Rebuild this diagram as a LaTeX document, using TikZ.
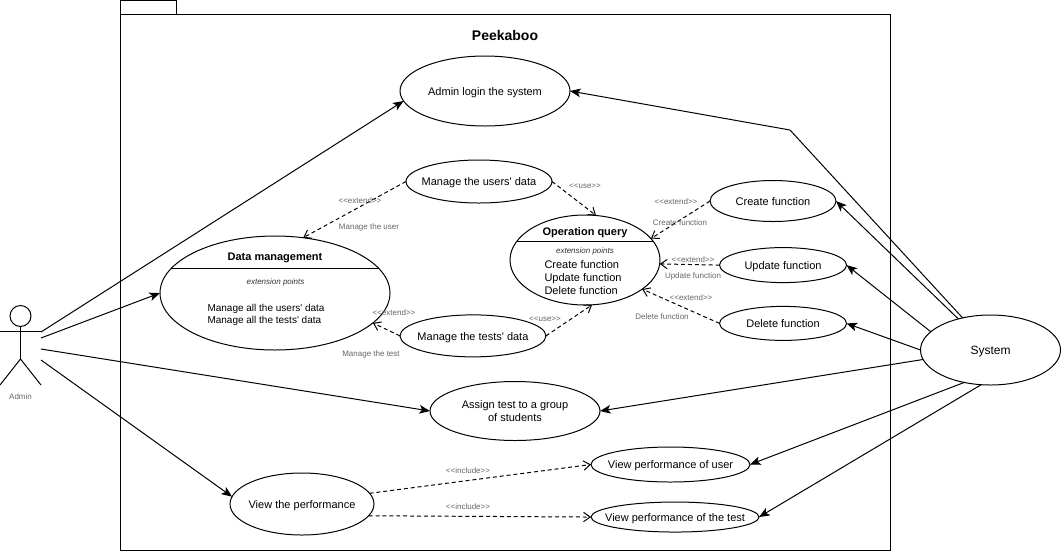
\documentclass[tikz,border=0pt]{standalone}
\usepackage{fontspec}
\setmainfont{Liberation Sans}[Ligatures=TeXOff]
\usepackage{xcolor}
\usepackage{tikz}
\usetikzlibrary{arrows.meta, positioning, shapes.geometric}

\begin{document}
\begin{tikzpicture}[
    x=0.02646cm, y=-0.02646cm,
    line width=0.75pt,
    every node/.style={font=\fontsize{8.28}{10.2}\selectfont},
    usecase/.style 2 args={
        draw=black, ellipse, fill=white, align=center,
        inner ysep=0pt, inner xsep=-1cm, outer sep=0pt,
        text height=8.6pt, text depth=2pt,
        minimum width=#1*0.02646cm, minimum height=#2*0.02646cm
    },
    small/.style={font=\fontsize{6.02}{7.5}\selectfont, text=cNote, inner sep=0pt},
    extpoints/.style={font=\fontsize{6.02}{7.5}\selectfont\itshape, text=black!80, inner sep=0pt},
    title/.style={font=\fontsize{8.28}{10.2}\selectfont\bfseries, inner sep=0pt},
    flow/.style={draw=black, -{Stealth[length=8pt,width=6.5pt,inset=2pt]}},
    dep/.style={draw=black, dashed, dash pattern=on 3pt off 2.2pt,
        -{Straight Barb[length=5pt,width=7pt]}},
    node distance=0.7cm and 1cm
]
\definecolor{cNote}{RGB}{102,102,102}
\useasboundingbox (0,0) rectangle (1061,551);

% Package
\node[draw=black, minimum width=56*0.02646cm, minimum height=14*0.02646cm,
      inner sep=0pt, outer sep=0pt, anchor=north west] (tab) at (120,0.5) {};
\node[draw=black, minimum width=770*0.02646cm, minimum height=536*0.02646cm,
      inner sep=0pt, outer sep=0pt, anchor=north west] (package) at (120.5,14.5) {};
\node[font=\fontsize{10.54}{12}\selectfont\bfseries, inner sep=0pt] (pname) at (505,35) {Peekaboo};

% Actor
\node[draw=black, circle, minimum size=21*0.02646cm, inner sep=0pt, outer sep=0pt] (head) at (20.5,316) {};
\coordinate (neck) at (20.5,359);
\coordinate (armL) at (0,331);
\coordinate (armR) at (41,331);
\coordinate (footL) at (0,385);
\coordinate (footR) at (41,385);
\draw (head) -- (neck);
\draw (armL) -- (armR);
\draw (footL) -- (neck) -- (footR);
\node[small] (admin) at (20.5,397) {Admin};
\coordinate (a1) at (41,332);
\coordinate (a2) at (41,338);
\coordinate (a3) at (41,349);
\coordinate (a4) at (41,360);

% Use cases
\node[usecase={170}{70}] (login) at (485,91) {Admin login the system};
\node[usecase={146}{43}] (users) at (479,181.5) {Manage the users' data};
\node[usecase={146}{42}, below=2.96cm of users, xshift=-0.16cm] (tests) {Manage the tests' data};
\node[usecase={230}{114}] (data) at (275,293) {};
\node[usecase={150}{90}] (query) at (585,260) {};
\node[usecase={126}{41}] (create) at (773,201) {Create function};
\node[usecase={127}{35}, below=0.69cm of create, xshift=0.265cm] (update) {Update function};
\node[usecase={127}{34}, below=0.63cm of update] (delete) {Delete function};
\node[usecase={140}{70}, font=\fontsize{9.03}{11}\selectfont] (system) at (990.5,350) {System};
\node[usecase={170}{59}, text height=, text depth=, font=\fontsize{8.28}{10}\selectfont] (assign) at (515,411) {Assign test to a group\\of students};
\node[usecase={144}{62}] (perf) at (302,504) {View the performance};
\node[usecase={159}{35}] (perfuser) at (670.5,464.5) {View performance of user};
\node[usecase={168}{30}, below=0.53cm of perfuser, xshift=0.12cm] (perftest) {View performance of the test};

% Compartments
\draw (data.167) -- (data.13);
\node[title] (datatitle) at (275,258) {Data management};
\node[extpoints] (dataext) at (275.5,282) {extension points};
\node[align=left, inner sep=0pt, anchor=west, font=\fontsize{7.53}{9.6}\selectfont] (databody) at (207,315)
    {Manage all the users' data\\Manage all the tests' data};
\draw (query.165) -- (query.15);
\node[title] (querytitle) at (585,233) {Operation query};
\node[extpoints] (queryext) at (585,251.5) {extension points};
\node[align=left, inner sep=0pt, anchor=west, font=\fontsize{8.28}{9.8}\selectfont] (querybody) at (544,278)
    {Create function\\Update function\\Delete function};

% Edges
\coordinate (bend) at (790,130);
\draw[flow] (a1) -- (login.187);
\draw[flow] (a2) -- (data.west);
\draw[flow] (a3) -- (assign.west);
\draw[flow] (a4) -- (perf.174);
\draw[flow] (system.131) -- (bend) -- (login.east);
\draw[flow] (system.136) -- (create.east);
\draw[flow] (system.163) -- (update.east);
\draw[flow] (system.west) -- (delete.east);
\draw[flow] (system.188) -- (assign.east);
\draw[flow] (system.231) -- (perfuser.east);
\draw[flow] (system.255) -- (perftest.east);

\draw[dep] (users.west) -- (data.63);
\draw[dep] (tests.west) -- (data.343);
\draw[dep] (users.east) -- (query.76);
\draw[dep] (tests.east) -- (query.279);
\draw[dep] (create.west) -- (query.18);
\draw[dep] (update.west) -- (query.357);
\draw[dep] (delete.west) -- (query.333);
\draw[dep] (perf.9) -- (perfuser.west);
\draw[dep] (perf.350) -- (perftest.west);

% Edge labels
\node[small] (ext1) at (360,201) {<<extend>>};
\node[small] (ext1b) at (369,227) {Manage the user};
\node[small] (ext2) at (394,313) {<<extend>>};
\node[small] (ext2b) at (371,354) {Manage the test};
\node[small] (use1) at (585,186) {<<use>>};
\node[small] (use2) at (545,319) {<<use>>};
\node[small] (ext3) at (676,202) {<<extend>>};
\node[small] (ext3b) at (680,223) {Create function};
\node[small] (ext4) at (693,260) {<<extend>>};
\node[small] (ext4b) at (693,276) {Update function};
\node[small] (ext5) at (691,298) {<<extend>>};
\node[small] (ext5b) at (662,317) {Delete function};
\node[small] (inc1) at (468,471) {<<include>>};
\node[small] (inc2) at (468,507) {<<include>>};

\end{tikzpicture}
\end{document}
